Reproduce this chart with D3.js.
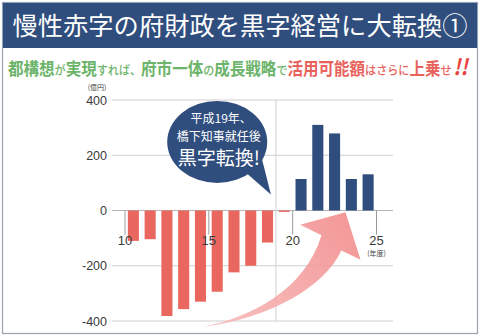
<!DOCTYPE html>
<html><head><meta charset="utf-8">
<script src="https://cdn.jsdelivr.net/npm/d3@7"></script>
<style>html,body{margin:0;padding:0;background:#fff;}svg{display:block;}</style>
</head><body>
<script>
// ---- data ----
const years = [10,11,12,13,14,15,16,17,18,19,20,21,22,23,24];
const balances = [-110,-104,-382,-357,-330,-294,-224,-200,-116,-5,114,310,279,114,131];
const xTicks = [10,15,20,25];
const yTicks = [400,200,0,-200,-400];
const titleText = "慢性赤字の府財政を黒字経営に大転換①";
const subtitleParts = [
  ["都構想","g",1],["が","g",0],["実現","g",1],["すれば、","g",0],["府市一体","g",1],["の","g",0],
  ["成長戦略","g",1],["で","g",0],["活用可能額","r",1],["はさらに","r",0],["上乗","r",1],["せ","r",0]
];
const bubbleLines = ["平成19年、","橋下知事就任後","黒字転換!"];
const yUnit = "(億円)", xUnit = "(年度)";
const turnYear = 19;

const W = 480, H = 336;
const FONT = "'Noto Sans CJK JP','Noto Sans',sans-serif";
const svg = d3.select("body").append("svg").attr("width",W).attr("height",H)
  .style("font-family",FONT);

svg.append("rect").attr("x",0).attr("y",0).attr("width",W).attr("height",H).attr("fill","#fff");

// frame + banner
svg.append("rect").attr("x",2.5).attr("y",2.5).attr("width",475).attr("height",331)
  .attr("fill","none").attr("stroke","#9aa3b3").attr("stroke-width",1.2);
svg.append("rect").attr("x",3).attr("y",3).attr("width",474).attr("height",45).attr("fill","#2f4d7d");
svg.append("text").attr("x",240).attr("y",35).attr("text-anchor","middle")
  .attr("fill","#fff").attr("font-size",25).attr("textLength",455).attr("lengthAdjust","spacingAndGlyphs")
  .text(titleText);

// subtitle
const sub = svg.append("text").attr("x",0).attr("y",75);
subtitleParts.forEach(([t,c,big]) => {
  sub.append("tspan").text(t).attr("font-size", big?17.5:12.5).attr("font-weight", big?"bold":"500")
    .attr("fill", c==="g" ? "#6cb46a" : "#e8625c");
});
sub.append("tspan").text("!!").attr("font-size",22).attr("font-weight","bold")
  .attr("font-style","italic").attr("fill","#e8423c").attr("dx",2);
const bb = sub.node().getBBox();
const sx = 462 / bb.width;
sub.attr("transform", `translate(${8 - bb.x*sx},0) scale(${sx},1)`);

// scales
const x = d3.scaleLinear().domain([10,25]).range([125,376.5]);
const y = d3.scaleLinear().domain([-400,400]).range([321,100]);
const gx0 = 112, gx1 = 393;

// gridlines
svg.append("g").selectAll("line").data(yTicks).join("line")
  .attr("x1",gx0).attr("x2",gx1).attr("y1",d=>y(d)).attr("y2",d=>y(d))
  .attr("stroke", d=> d===0 ? "#b5b5b5" : "#cfcfcf").attr("stroke-width",1);
svg.append("line").attr("x1",x(turnYear)).attr("x2",x(turnYear)).attr("y1",y(400)).attr("y2",y(-400))
  .attr("stroke","#d2d2d2");

// y labels
svg.append("g").selectAll("text").data(yTicks).join("text")
  .attr("x",107).attr("y",d=>y(d)+4.5).attr("text-anchor","end")
  .attr("font-size",12.5).attr("fill","#3a3a3a").attr("font-family","'Liberation Sans',Arial,sans-serif")
  .text(d=>d);
svg.append("text").attr("x",97).attr("y",90).attr("text-anchor","middle")
  .attr("font-size",7).attr("fill","#444").text(yUnit);

// x ticks
svg.append("g").selectAll("line").data(xTicks).join("line")
  .attr("x1",d=>x(d)).attr("x2",d=>x(d)).attr("y1",y(0)).attr("y2",y(0)+24)
  .attr("stroke","#9a9a9a");

// bars
const bw = 0.66;
svg.append("g").selectAll("rect").data(years.map((yr,i)=>({yr,v:balances[i]}))).join("rect")
  .attr("x",d=>x(d.yr+0.5-bw/2)).attr("width",d=>x(d.yr+0.5+bw/2)-x(d.yr+0.5-bw/2))
  .attr("y",d=>y(Math.max(0,d.v))).attr("height",d=>Math.abs(y(d.v)-y(0)))
  .attr("fill",d=>d.v<0?"#e9675f":"#2f4d7d");

// x tick labels (drawn over bars, as in the reference)
svg.append("g").selectAll("text").data(xTicks).join("text")
  .attr("x",d=>x(d)).attr("y",y(0)+34).attr("text-anchor","middle")
  .attr("font-size",13).attr("fill","#3a3a3a").attr("font-family","'Liberation Sans',Arial,sans-serif")
  .text(d=>d);
svg.append("text").attr("x",x(25)).attr("y",y(0)+45).attr("text-anchor","middle")
  .attr("font-size",7).attr("fill","#444").text(xUnit);

// arrow (defined in data space)
const P = (a,b)=>[x(a),y(b)];
const tail = P(14.65,-421), u1=P(17.45,-389), u2=P(20.74,-288), uEnd=P(21.72,-90);
const wL = P(20.45,-52), tip=P(23.15,-6), wR=P(24.05,-178), lStart=P(22.9,-145);
const l1 = P(21.98,-272), l2=P(18.7,-391);
const defs = svg.append("defs");
const grad = defs.append("linearGradient").attr("id","ag").attr("gradientUnits","userSpaceOnUse")
  .attr("x1",tail[0]).attr("y1",tail[1]).attr("x2",tip[0]).attr("y2",tip[1]);
grad.append("stop").attr("offset","0").attr("stop-color","#f7bcbc");
grad.append("stop").attr("offset","1").attr("stop-color","#f28a8a");
const p = d3.path();
p.moveTo(...tail);
p.bezierCurveTo(...u1,...u2,...uEnd);
p.lineTo(...wL); p.lineTo(...tip); p.lineTo(...wR); p.lineTo(...lStart);
p.bezierCurveTo(...l1,...l2,...tail);
p.closePath();
svg.append("path").attr("d",p.toString()).attr("fill","url(#ag)").attr("fill-opacity",0.88);

// speech bubble
const bc = P(15.5,248), brx = 50, bry = 41;
const bubble = svg.append("g");
const tp = d3.path();
tp.moveTo(bc[0]+28, bc[1]+30); tp.lineTo(...P(18.7,58)); tp.lineTo(bc[0]+44, bc[1]+14); tp.closePath();
bubble.append("path").attr("d",tp.toString()).attr("fill","#2f4d7d");
bubble.append("ellipse").attr("cx",bc[0]).attr("cy",bc[1]).attr("rx",brx).attr("ry",bry).attr("fill","#2f4d7d");
const bt = [[bubbleLines[0],12,-19],[bubbleLines[1],12,-1],[bubbleLines[2],19,23]];
bt.forEach(([t,fs,dy],i)=>{
  bubble.append("text").attr("x",bc[0]+(i===0?4:1.5)).attr("y",bc[1]+dy).attr("text-anchor","middle")
    .attr("font-size",fs).attr("fill","#fff").text(t);
});
</script>
</body></html>
